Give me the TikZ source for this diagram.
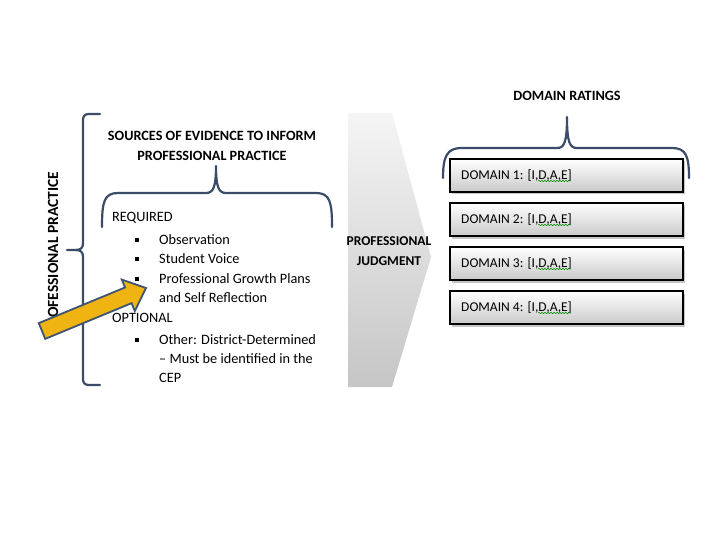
\documentclass[tikz,border=0pt]{standalone}
\usepackage{fontspec}
\setmainfont{Carlito}
\usetikzlibrary{calc,shadows,decorations.pathmorphing}
\definecolor{brk}{RGB}{58,76,104}
\definecolor{arrfill}{RGB}{240,180,18}
\definecolor{arredge}{RGB}{62,84,112}
\begin{document}
\begin{tikzpicture}[x=1pt,y=-1pt,
  brace/.style={draw=brk,line width=2.2pt,line cap=round,line join=round},
  hdr/.style={font=\fontsize{14.2}{16}\selectfont\bfseries,align=center,inner sep=0pt},
  body/.style={font=\fontsize{14.3}{16}\selectfont,anchor=west,inner sep=0pt},
  bul/.style={fill=black,minimum size=3.4pt,inner sep=0pt},
  dombox/.style={draw=black,line width=1.3pt,top color=white,bottom color=gray!42,
    minimum width=233pt,minimum height=33pt,inner sep=0pt,
    drop shadow={shadow xshift=1.5pt,shadow yshift=-2.5pt,opacity=0.45}},
  domtxt/.style={font=\fontsize{13.5}{16}\selectfont,anchor=west,inner sep=0pt},
  squig/.style={draw=green!55!black,line width=0.5pt,decorate,decoration={snake,amplitude=0.7pt,segment length=3pt}}
]
\useasboundingbox (0,0) rectangle (720,540);
\fill[white] (0,0) rectangle (720,540);

% big left bracket
\draw[brace] (100,114) -- (89,114) .. controls (85,114) and (83,116) .. (83,120)
  -- (83,243) .. controls (83,248) and (81,250) .. (75,250) -- (67,250)
  (75,250) .. controls (81,250) and (83,252) .. (83,257)
  -- (83,379) .. controls (83,383) and (85,385) .. (89,385) -- (100,385);
\node[rotate=90,anchor=west,inner sep=0pt,font=\fontsize{15.5}{17}\selectfont\bfseries] (pp) at (53,318) {OFESSIONAL PRACTICE};

% headings
\node[hdr] (src) at (212,146) {SOURCES OF EVIDENCE TO INFORM\\[3.5pt]PROFESSIONAL PRACTICE};

% small brace
\draw[brace] (102,227) .. controls (102,202) and (104,193) .. (118,193) -- (206,193)
  .. controls (213,193) and (216,188) .. (216,166)
  .. controls (216,188) and (219,193) .. (226,193) -- (316,193)
  .. controls (330,193) and (332,202) .. (332,227);

% list
\node[body] (req) at (112,218) {REQUIRED};
\node[bul] (b1) at (137,240) {};
\node[body] (i1) at (159,240) {Observation};
\node[bul] (b2) at (137,259) {};
\node[body] (i2) at (159,259) {Student Voice};
\node[bul] (b3) at (137,279) {};
\node[body] (i3) at (159,279) {Professional Growth Plans};
\node[body] (i3b) at (159,298) {and Self Reflection};
\node[body] (opt) at (112,318) {OPTIONAL};
\node[bul] (b4) at (137,340) {};
\node[body] (i4) at (159,340) {Other: District-Determined};
\node[body] (i4b) at (159,359) {-- Must be identified in the};
\node[body] (i4c) at (159,378) {CEP};

% yellow arrow
\coordinate (T) at (42,331);
\coordinate (P) at (146,288);
\coordinate (B) at ($(T)!0.83!(P)$);
\draw[fill=arrfill,draw=arredge,line width=1.8pt,line join=miter]
  ($(T)!8.5pt!90:(P)$) -- ($(B)!8.5pt!-90:(T)$) -- ($(B)!17pt!-90:(T)$) -- (P)
  -- ($(B)!17pt!90:(T)$) -- ($(B)!8.5pt!90:(T)$) -- ($(T)!8.5pt!-90:(P)$) -- cycle;

% chevron
\shade[top color=gray!8,bottom color=gray!45] (348,113) -- (392,113) -- (431,257) -- (392,387) -- (348,387) -- cycle;
\node[hdr,font=\fontsize{13.5}{16}\selectfont\bfseries] (pj) at (389,251) {PROFESSIONAL\\[4pt]JUDGMENT};

% domain ratings
\node[hdr] (dr) at (567,96) {DOMAIN RATINGS};
\draw[brace] (443,178) .. controls (443,156) and (447,148) .. (462,148) -- (557,148)
  .. controls (564,148) and (567,143) .. (567,117)
  .. controls (567,143) and (570,148) .. (577,148) -- (672,148)
  .. controls (686,148) and (689,156) .. (689,178);

\foreach \i/\y in {1/175.5,2/219.5,3/263.5,4/307.5}{
  \node[dombox] (d\i) at (566.5,\y) {};
  \node[domtxt] (t\i) at (461,\y) {DOMAIN \i: [I,D,A,E]};
  \draw[squig] (538,\y+5.5) -- (571,\y+5.5);
}
\end{tikzpicture}
\end{document}
